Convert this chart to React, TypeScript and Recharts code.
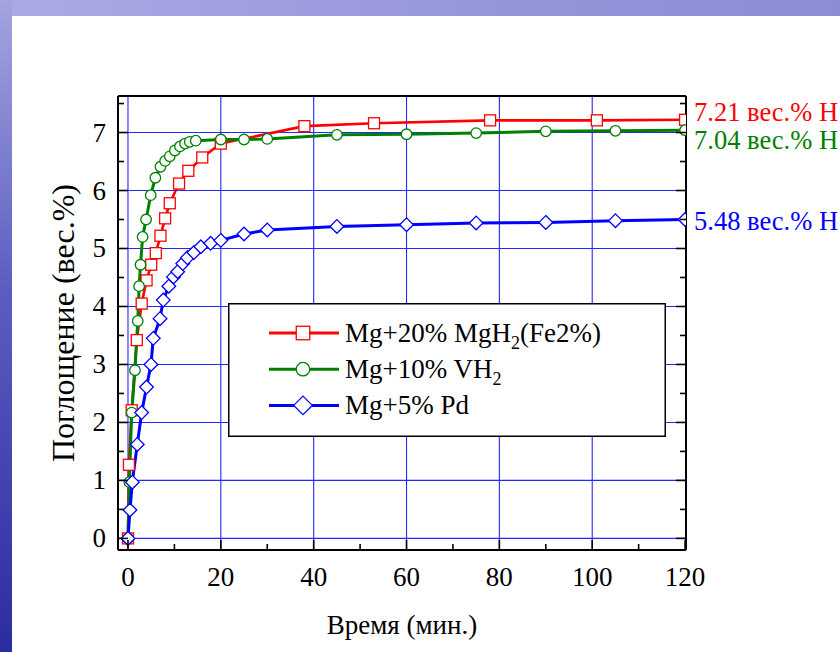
import { LineChart, Line, XAxis, YAxis, CartesianGrid, Legend, LabelList, Label } from 'recharts'

// время (мин.) и поглощение (вес.%) для трёх образцов
const redTime = [0, 0.2, 0.8, 1.9, 2.95, 4, 5, 6, 7, 8, 9, 11, 13, 16, 20, 38, 53, 78, 101, 120]
const redUptake = [0, 1.27, 2.21, 3.42, 4.05, 4.45, 4.72, 4.92, 5.22, 5.52, 5.78, 6.12, 6.34, 6.57, 6.81, 7.11, 7.16, 7.21, 7.21, 7.22]

const greenTime = [0, 0.3, 0.8, 1.5, 2.1, 2.4, 2.7, 3.15, 3.9, 4.9, 5.9, 7, 8, 9, 10.1, 11.2, 12.3, 13.3, 14.6, 20, 25, 30, 45, 60, 75, 90, 105, 120]
const greenUptake = [0, 0.97, 2.17, 2.9, 3.75, 4.35, 4.72, 5.2, 5.5, 5.92, 6.22, 6.41, 6.51, 6.59, 6.69, 6.76, 6.81, 6.84, 6.86, 6.88, 6.88, 6.89, 6.96, 6.97, 6.99, 7.02, 7.03, 7.04]

const blueTime = [0, 0.43, 0.93, 2, 2.95, 4, 4.95, 5.45, 6.9, 7.6, 8.8, 9.8, 10.7, 11.8, 12.8, 14.2, 15.7, 17.8, 20, 25, 30, 45, 60, 75, 90, 105, 120]
const blueUptake = [0, 0.49, 0.97, 1.62, 2.17, 2.61, 3.0, 3.45, 3.79, 4.11, 4.35, 4.51, 4.6, 4.74, 4.84, 4.93, 5.03, 5.09, 5.14, 5.25, 5.32, 5.38, 5.41, 5.44, 5.45, 5.48, 5.5]

const seriesNames = ['Mg+20% MgH2(Fe2%)', 'Mg+10% VH2', 'Mg+5% Pd']
const endLabels = ['7.21 вес.% H', '7.04 вес.% H', '5.48 вес.% H']

const xTicks = [0, 10, 20, 30, 40, 50, 60, 70, 80, 90, 100, 110, 120]
const xGrid = [0, 20, 40, 60, 80, 100]
const yTicks = [0, 0.5, 1, 1.5, 2, 2.5, 3, 3.5, 4, 4.5, 5, 5.5, 6, 6.5, 7, 7.5]
const yGrid = [0, 1, 2, 3, 4, 5, 6, 7]

const X_DOMAIN: [number, number] = [-2.15, 120.2]
const Y_DOMAIN: [number, number] = [-0.2, 7.63]

const FONT = "'Liberation Serif', 'DejaVu Serif', 'Times New Roman', Times, serif"
const COLORS = ['#ff0000', '#008000', '#0000ff']
const SHAPES = ['square', 'circle', 'diamond']
const LABEL_DY = [1, 19, 10]

const toPoints = (t: number[], v: number[]) => t.map((x, i) => ({ t: x, v: v[i] }))
const series = [toPoints(redTime, redUptake), toPoints(greenTime, greenUptake), toPoints(blueTime, blueUptake)]

function Marker({ shape, color, cx, cy, s }: { shape: string; color: string; cx: number; cy: number; s: number }) {
  const common = { fill: '#fff', stroke: color, strokeWidth: 1.3 }
  if (shape === 'square') return <rect x={cx - s / 2} y={cy - s / 2} width={s} height={s} {...common} />
  if (shape === 'circle') return <circle cx={cx} cy={cy} r={s / 2} {...common} />
  const h = s * 0.62
  return <polygon points={`${cx},${cy - h} ${cx + h},${cy} ${cx},${cy + h} ${cx - h},${cy}`} {...common} />
}

const dotFor = (i: number) => (p: any) => (
  <Marker key={`d-${i}-${p.index}`} shape={SHAPES[i]} color={COLORS[i]} cx={p.cx} cy={p.cy} s={i === 1 ? 10.5 : 11} />
)

const endLabelFor = (i: number) => (p: any) => {
  if (p.index !== series[i].length - 1) return null
  const x = p.x ?? p.viewBox?.x
  const y = p.y ?? p.viewBox?.y
  return (
    <text x={x + 9} y={y + LABEL_DY[i]} fill={COLORS[i]} fontSize={26.5} style={{ fontFamily: FONT }}>
      {endLabels[i]}
    </text>
  )
}

// "H2" -> H с подстрочной двойкой
function withSub(name: string) {
  const parts = name.split('H2')
  const out: any[] = []
  parts.forEach((s, k) => {
    out.push(<tspan key={`s${k}`} dy={k > 0 ? -7 : 0}>{s}</tspan>)
    if (k < parts.length - 1) {
      out.push(<tspan key={`h${k}`}>H</tspan>)
      out.push(<tspan key={`b${k}`} dy={7} fontSize={18}>2</tspan>)
    }
  })
  return out
}

const LegendBox = () => (
  <svg width={438} height={134} style={{ display: 'block' }}>
    <rect x={0.75} y={0.75} width={436.5} height={132.5} fill="#fff" stroke="#000" strokeWidth={1.5} />
    {seriesNames.map((n, i) => {
      const y = 30 + i * 36.2
      return (
        <g key={n}>
          <line x1={41} x2={111} y1={y} y2={y} stroke={COLORS[i]} strokeWidth={3} />
          <Marker shape={SHAPES[i]} color={COLORS[i]} cx={75} cy={y} s={i === 2 ? 15 : 13.5} />
          <text x={117} y={y + 9} fontSize={27} style={{ fontFamily: FONT }} fill="#000">{withSub(n)}</text>
        </g>
      )
    })}
  </svg>
)

const BottomTick = (p: any) => {
  const major = p.payload.value % 20 === 0
  return (
    <g>
      <line x1={p.x} x2={p.x} y1={p.y} y2={p.y - (major ? 10 : 6)} stroke="#000" strokeWidth={1.6} />
      {major && (
        <text x={p.x} y={p.y + 36} textAnchor="middle" fontSize={27} style={{ fontFamily: FONT }} fill="#000">{p.payload.value}</text>
      )}
    </g>
  )
}

const TopTick = (p: any) => {
  const major = p.payload.value % 20 === 0
  return <line x1={p.x} x2={p.x} y1={p.y} y2={p.y + (major ? 10 : 6)} stroke="#000" strokeWidth={1.6} />
}

const LeftTick = (p: any) => {
  const major = p.payload.value % 1 === 0
  return (
    <g>
      <line x1={p.x} x2={p.x + (major ? 10 : 6)} y1={p.y} y2={p.y} stroke="#000" strokeWidth={1.6} />
      {major && (
        <text x={p.x - 12} y={p.y + 9} textAnchor="end" fontSize={27} style={{ fontFamily: FONT }} fill="#000">{p.payload.value}</text>
      )}
    </g>
  )
}

const RightTick = (p: any) => {
  const major = p.payload.value % 1 === 0
  return <line x1={p.x} x2={p.x - (major ? 10 : 6)} y1={p.y} y2={p.y} stroke="#000" strokeWidth={1.6} />
}

const axisLine = { stroke: '#000', strokeWidth: 2 }

export default function App() {
  return (
    <div style={{ position: 'absolute', left: 0, top: 0, width: 840, height: 652, background: '#fff', overflow: 'hidden', fontFamily: FONT }}>
      <div style={{ position: 'absolute', left: 0, top: 0, width: 840, height: 16, background: 'linear-gradient(to right, #aaaae4, #9494da 60%, #8c8cd6)' }} />
      <div style={{ position: 'absolute', left: 0, top: 0, width: 12, height: 652, background: 'linear-gradient(to bottom, #a4a4e0, #5c5cc0 45%, #2c2ca2)' }} />
      <div style={{ position: 'absolute', left: 0, top: 0 }}>
        <LineChart width={840} height={652} margin={{ top: 95, right: 153, bottom: 0, left: 8 }} style={{ fontFamily: FONT }}>
          <CartesianGrid
            stroke="#2626ff"
            strokeWidth={1.1}
            verticalValues={xGrid}
            horizontalValues={yGrid}
          />
          <XAxis
            dataKey="t"
            type="number"
            domain={X_DOMAIN}
            ticks={xTicks}
            interval={0}
            allowDataOverflow
            height={102}
            tickSize={0}
            tickMargin={0}
            tickLine={false}
            tick={BottomTick}
            axisLine={axisLine}
          >
            <Label value="Время (мин.)" position="insideBottom" offset={18} fontSize={27} style={{ fontFamily: FONT }} fill="#000" />
          </XAxis>
          <XAxis
            xAxisId="top"
            orientation="top"
            type="number"
            domain={X_DOMAIN}
            ticks={xTicks}
            interval={0}
            allowDataOverflow
            height={1}
            tickSize={0}
            tickMargin={0}
            tickLine={false}
            tick={TopTick}
            axisLine={axisLine}
          />
          <YAxis
            type="number"
            domain={Y_DOMAIN}
            ticks={yTicks}
            interval={0}
            allowDataOverflow
            width={110}
            tickSize={0}
            tickMargin={0}
            tickLine={false}
            tick={LeftTick}
            axisLine={axisLine}
          >
            <Label value="Поглощение (вес.%)" angle={-90} position="center" fontSize={32} style={{ fontFamily: FONT }} fill="#000" />
          </YAxis>
          <YAxis
            yAxisId="right"
            orientation="right"
            type="number"
            domain={Y_DOMAIN}
            ticks={yTicks}
            interval={0}
            allowDataOverflow
            width={1}
            tickSize={0}
            tickMargin={0}
            tickLine={false}
            tick={RightTick}
            axisLine={axisLine}
          />
          {series.map((d, i) => (
            <Line
              key={seriesNames[i]}
              data={d}
              dataKey="v"
              name={seriesNames[i]}
              type="linear"
              stroke={COLORS[i]}
              strokeWidth={i === 0 ? 2.6 : 3}
              dot={dotFor(i)}
              activeDot={false}
              isAnimationActive={false}
            >
              <LabelList dataKey="v" content={endLabelFor(i)} />
            </Line>
          ))}
          <Legend
            layout="vertical"
            align="center"
            verticalAlign="middle"
            content={LegendBox}
            wrapperStyle={{ left: 228, top: 303, width: 438, height: 134 }}
          />
        </LineChart>
      </div>
    </div>
  )
}
